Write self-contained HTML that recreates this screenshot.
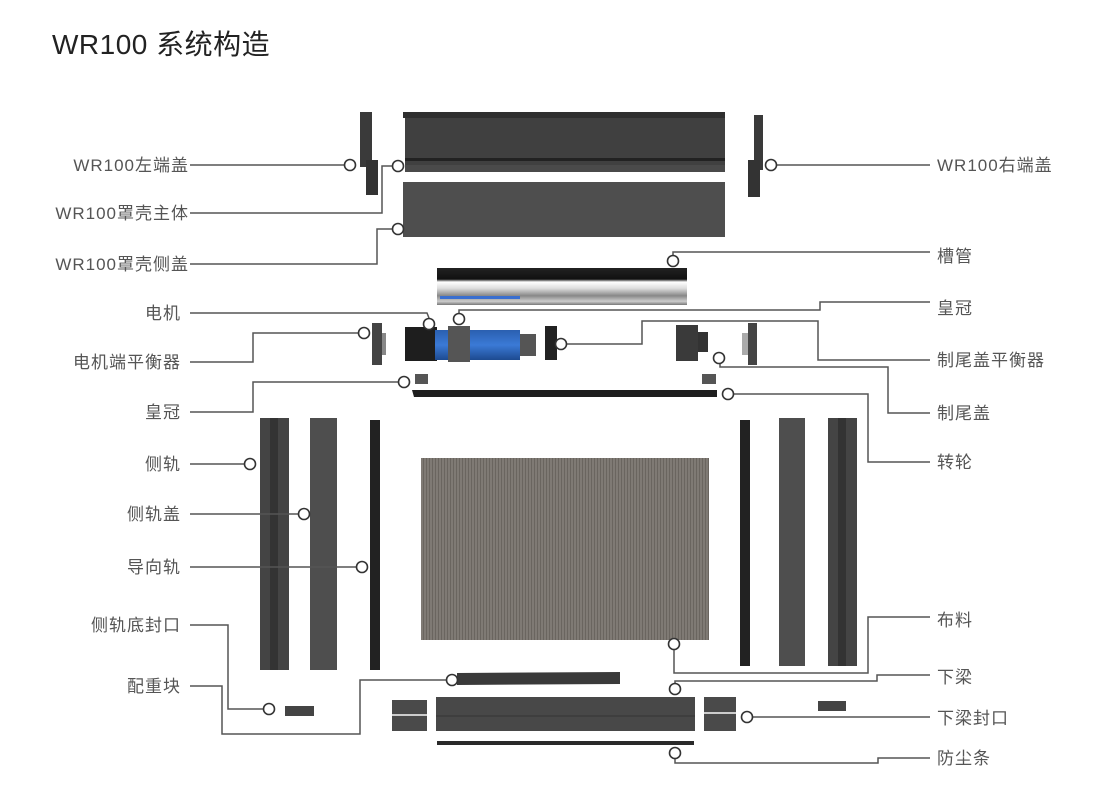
<!DOCTYPE html>
<html><head><meta charset="utf-8"><style>
body{margin:0;background:#fff;width:1100px;height:805px;overflow:hidden;font-family:"Liberation Sans","Noto Sans CJK SC",sans-serif;}
</style></head><body>
<svg width="1100" height="805" xmlns="http://www.w3.org/2000/svg" font-family="Liberation Sans, Noto Sans CJK SC, sans-serif">
<defs>
<linearGradient id="tube" x1="0" y1="0" x2="0" y2="1">
<stop offset="0" stop-color="#222"/><stop offset="0.3" stop-color="#111"/><stop offset="0.38" stop-color="#fff"/><stop offset="0.55" stop-color="#ddd"/><stop offset="0.75" stop-color="#888"/><stop offset="0.9" stop-color="#ccc"/><stop offset="1" stop-color="#777"/>
</linearGradient>
<linearGradient id="blue" x1="0" y1="0" x2="0" y2="1"><stop offset="0" stop-color="#2a5fb0"/><stop offset="0.5" stop-color="#3b7ad6"/><stop offset="1" stop-color="#1d4a90"/></linearGradient>
<pattern id="fab" width="3" height="4" patternUnits="userSpaceOnUse"><rect width="3" height="4" fill="#7f7a74"/><rect width="1" height="4" fill="#6a655f"/></pattern>
</defs>
<text x="52" y="54" font-size="28" fill="#222" letter-spacing="0.5">WR100 系统构造</text>

<rect x="403" y="112" width="322" height="6" fill="#2f2f2f"/>
<rect x="405" y="118" width="320" height="54" fill="#404040"/>
<rect x="405" y="158" width="320" height="3" fill="#222"/>
<rect x="405" y="165" width="320" height="7" fill="#4a4a4a"/>
<rect x="403" y="182" width="322" height="55" fill="#4e4e4e"/>
<rect x="360" y="112" width="12" height="55" fill="#3a3a3a"/><rect x="366" y="160" width="12" height="35" fill="#333"/>
<rect x="754" y="115" width="9" height="55" fill="#3a3a3a"/><rect x="748" y="160" width="12" height="37" fill="#333"/>
<rect x="437" y="268" width="250" height="37" fill="url(#tube)"/>
<rect x="440" y="296" width="80" height="3" fill="#3a6fd0"/>
<rect x="405" y="327" width="32" height="34" fill="#1e1e1e"/>
<rect x="435" y="330" width="85" height="30" fill="url(#blue)"/>
<rect x="448" y="326" width="22" height="36" fill="#555"/>
<rect x="520" y="334" width="16" height="22" fill="#555"/>
<rect x="545" y="326" width="12" height="34" fill="#222"/>
<rect x="676" y="325" width="22" height="36" fill="#3a3a3a"/><rect x="698" y="332" width="10" height="20" fill="#333"/>
<rect x="372" y="323" width="10" height="42" fill="#444"/><rect x="382" y="333" width="4" height="22" fill="#888"/>
<rect x="748" y="323" width="9" height="42" fill="#444"/><rect x="742" y="333" width="6" height="22" fill="#aaa"/>
<rect x="415" y="374" width="13" height="10" fill="#555"/><rect x="702" y="374" width="14" height="10" fill="#555"/>
<polygon points="412,390 717,390 717,397 414,397" fill="#1e1e1e"/>
<rect x="260" y="418" width="29" height="252" fill="#444"/><rect x="270" y="418" width="8" height="252" fill="#333"/>
<rect x="310" y="418" width="27" height="252" fill="#4e4e4e"/>
<rect x="370" y="420" width="10" height="250" fill="#222"/>
<rect x="740" y="420" width="10" height="246" fill="#222"/>
<rect x="779" y="418" width="26" height="248" fill="#4e4e4e"/>
<rect x="828" y="418" width="29" height="248" fill="#444"/><rect x="838" y="418" width="8" height="248" fill="#333"/>
<rect x="421" y="458" width="288" height="182" fill="url(#fab)"/>
<polygon points="457,673 620,672 620,684 457,685" fill="#3a3a3a"/>
<rect x="436" y="697" width="259" height="34" fill="#484848"/><line x1="436" y1="716" x2="695" y2="716" stroke="#333"/>
<rect x="392" y="700" width="35" height="31" fill="#4a4a4a"/><rect x="392" y="714" width="35" height="2" fill="#ccc"/>
<rect x="704" y="697" width="32" height="34" fill="#4a4a4a"/><rect x="704" y="712" width="32" height="2" fill="#ccc"/>
<rect x="437" y="741" width="257" height="4" fill="#2a2a2a"/>
<rect x="285" y="706" width="29" height="10" fill="#444"/><rect x="818" y="701" width="28" height="10" fill="#444"/>

<g fill="none" stroke="#555" stroke-width="1.5">
<polyline points="190,165 344,165"/>
<polyline points="190,213 382,213 382,166 392,166"/>
<polyline points="190,264 377,264 377,229 392,229"/>
<polyline points="190,313 427,313 429,318"/>
<polyline points="190,362 253,362 253,333 358,333"/>
<polyline points="190,412 253,412 253,382 398,382"/>
<polyline points="190,464 244,464"/>
<polyline points="190,514 298,514"/>
<polyline points="190,567 356,567"/>
<polyline points="190,625 228,625 228,709 263,709"/>
<polyline points="190,686 222,686 222,734 360,734 360,680 446,680"/>
<polyline points="777,165 930,165"/>
<polyline points="673,255 673,252 930,252"/>
<polyline points="459,313 459,310 820,310 820,302 930,302"/>
<polyline points="567,344 642,344 642,321 818,321 818,360 930,360"/>
<polyline points="720,364 720,367 888,367 888,413 930,413"/>
<polyline points="734,394 868,394 868,462 930,462"/>
<polyline points="674,650 674,673 868,673 868,617 930,617"/>
<polyline points="675,683 675,681 877,681 877,675 930,675"/>
<polyline points="753,717 930,717"/>
<polyline points="675,759 675,763 878,763 878,758 930,758"/>
</g>
<g fill="#fff" stroke="#333" stroke-width="1.6">
<circle cx="350" cy="165" r="5.5"/><circle cx="398" cy="166" r="5.5"/><circle cx="398" cy="229" r="5.5"/>
<circle cx="429" cy="324" r="5.5"/><circle cx="364" cy="333" r="5.5"/><circle cx="404" cy="382" r="5.5"/>
<circle cx="250" cy="464" r="5.5"/><circle cx="304" cy="514" r="5.5"/><circle cx="362" cy="567" r="5.5"/>
<circle cx="269" cy="709" r="5.5"/><circle cx="452" cy="680" r="5.5"/>
<circle cx="771" cy="165" r="5.5"/><circle cx="673" cy="261" r="5.5"/><circle cx="459" cy="319" r="5.5"/>
<circle cx="561" cy="344" r="5.5"/><circle cx="719" cy="358" r="5.5"/><circle cx="728" cy="394" r="5.5"/>
<circle cx="674" cy="644" r="5.5"/><circle cx="675" cy="689" r="5.5"/><circle cx="747" cy="717" r="5.5"/><circle cx="675" cy="753" r="5.5"/>
</g>
<g font-size="17" fill="#555" text-anchor="end" letter-spacing="1">
<text x="189" y="171">WR100左端盖</text>
<text x="189" y="219">WR100罩壳主体</text>
<text x="189" y="270">WR100罩壳侧盖</text>
<text x="181" y="319">电机</text>
<text x="181" y="368">电机端平衡器</text>
<text x="181" y="418">皇冠</text>
<text x="181" y="470">侧轨</text>
<text x="181" y="520">侧轨盖</text>
<text x="181" y="573">导向轨</text>
<text x="181" y="631">侧轨底封口</text>
<text x="181" y="692">配重块</text>
</g>
<g font-size="17" fill="#555" letter-spacing="1">
<text x="937" y="171">WR100右端盖</text>
<text x="937" y="262">槽管</text>
<text x="937" y="314">皇冠</text>
<text x="937" y="366">制尾盖平衡器</text>
<text x="937" y="419">制尾盖</text>
<text x="937" y="468">转轮</text>
<text x="937" y="626">布料</text>
<text x="937" y="683">下梁</text>
<text x="937" y="724">下梁封口</text>
<text x="937" y="764">防尘条</text>
</g>
</svg>
</body></html>
